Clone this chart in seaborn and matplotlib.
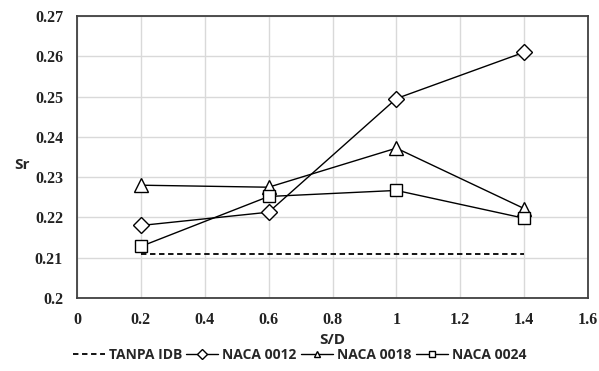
import matplotlib
matplotlib.use("Agg")
import matplotlib.pyplot as plt
from matplotlib.lines import Line2D
import seaborn as sns
import pandas as pd

sd = [0.2, 0.6, 1.0, 1.4]
tanpa_idb = [0.2108, 0.2108, 0.2108, 0.2108]
naca_0012 = [0.2180, 0.2213, 0.2495, 0.2610]
naca_0018 = [0.2280, 0.2275, 0.2372, 0.2222]
naca_0024 = [0.2128, 0.2252, 0.2267, 0.2198]
series_names = ["TANPA IDB", "NACA 0012", "NACA 0018", "NACA 0024"]
x_ticks = [0, 0.2, 0.4, 0.6, 0.8, 1.0, 1.2, 1.4, 1.6]
x_tick_labels = ["0", "0.2", "0.4", "0.6", "0.8", "1", "1.2", "1.4", "1.6"]
y_ticks = [0.2, 0.21, 0.22, 0.23, 0.24, 0.25, 0.26, 0.27]
y_tick_labels = ["0.2", "0.21", "0.22", "0.23", "0.24", "0.25", "0.26", "0.27"]

rows = []
for name, vals in zip(series_names, [tanpa_idb, naca_0012, naca_0018, naca_0024]):
    for x, y in zip(sd, vals):
        rows.append({"S/D": x, "Sr": y, "series": name})
df = pd.DataFrame(rows)

sns.set_theme(style="white")
fig = plt.figure(figsize=(5.99, 3.71), dpi=100)
ax = fig.add_axes([77/599, 1 - 298/371, (588-77)/599, (298-16)/371])

styles = {
    "TANPA IDB": dict(marker=None, ls=(0, (3.0, 2.0))),
    "NACA 0012": dict(marker="D", ms=8),
    "NACA 0018": dict(marker="^", ms=10),
    "NACA 0024": dict(marker="s", ms=8.5),
}
for name in series_names:
    st = styles[name]
    sub = df[df["series"] == name]
    if st.get("marker"):
        sns.lineplot(data=sub, x="S/D", y="Sr", ax=ax, marker=st["marker"], color="black",
                     linewidth=1.0, markersize=st["ms"], markerfacecolor="white",
                     markeredgecolor="black", markeredgewidth=1.0, legend=False)
    else:
        sns.lineplot(data=sub, x="S/D", y="Sr", ax=ax, linestyle=st["ls"], color="black",
                     linewidth=1.3, legend=False)

ax.set_xlim(0, 1.6)
ax.set_ylim(0.2, 0.27)
ax.set_xticks(x_ticks)
ax.set_xticklabels(x_tick_labels)
ax.set_yticks(y_ticks)
ax.set_yticklabels(y_tick_labels)
ax.grid(True, color="#d9d9d9", linewidth=1.0)
ax.set_axisbelow(True)
for s in ax.spines.values():
    s.set_color("#404040")
    s.set_linewidth(1.3)
ax.tick_params(axis="both", length=0, pad=10)
for lab in ax.get_xticklabels() + ax.get_yticklabels():
    lab.set_fontfamily("Liberation Serif")
    lab.set_fontweight("bold")
    lab.set_fontsize(11.5)
    lab.set_color("#222222")
ax.set_xlabel("S/D", fontfamily="Open Sans", fontweight="bold", fontsize=11, labelpad=4)
ax.set_ylabel("Sr", fontfamily="Open Sans", fontweight="bold", fontsize=11, rotation=0, va="center")
ax.yaxis.set_label_coords(-0.107, 0.47)

handles = []
for name in series_names:
    st = styles[name]
    if st.get("marker"):
        handles.append(Line2D([], [], color="black", lw=1.0, marker=st["marker"], markersize=5,
                              markerfacecolor="white", markeredgecolor="black"))
    else:
        handles.append(Line2D([], [], color="black", lw=1.3, linestyle=st["ls"]))
fig.legend(handles, series_names, loc="center", bbox_to_anchor=(0.5, 1 - 355/371),
           ncol=4, frameon=False, handlelength=2.3, handletextpad=0.3, columnspacing=0.3,
           prop={"family": "Open Sans", "weight": "bold", "size": 10})

fig.savefig("out.png", dpi=100)
